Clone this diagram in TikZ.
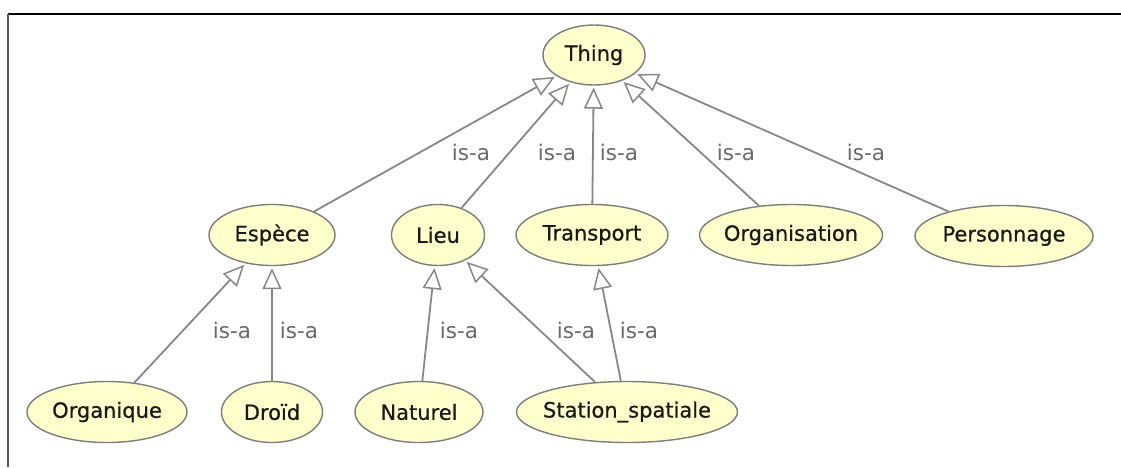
\documentclass[tikz,border=0pt]{standalone}
\usepackage{fontspec}
\setmainfont{DejaVu Sans}
\newfontfamily\classfont{DejaVu Sans}[FakeBold=0.7]
\usetikzlibrary{arrows.meta,shapes.geometric}
\newcommand{\cname}[1]{\makebox[0pt]{#1}}

\begin{document}
\begin{tikzpicture}[x=1pt, y=-1pt,
  classnode/.style={ellipse, draw=Ont-border, fill=Ont-fill, line width=1.4pt,
    inner sep=0pt, minimum height=61pt, font=\classfont\fontsize{21}{25}\selectfont, text=black!90},
  isaline/.style={draw=Ont-line, line width=1.8pt, shorten >=2pt,
    -{Triangle[open, length=21pt, width=19pt, line width=1.5pt]}},
  isalabel/.style={text=Ont-label, inner sep=0pt, font=\fontsize{21.5}{25}\selectfont}]

\definecolor{Ont-fill}{RGB}{255,255,204}
\definecolor{Ont-border}{RGB}{125,125,125}
\definecolor{Ont-line}{RGB}{135,135,135}
\definecolor{Ont-label}{RGB}{105,105,105}
\definecolor{Ont-frame}{RGB}{90,90,90}

\useasboundingbox (0,0) rectangle (1121,467);

\draw[black, line width=1.5pt] (1121,14) -- (8,14);
\draw[Ont-frame, line width=2pt] (8,14) -- (8,467);

\node[classnode, minimum width=102pt, minimum height=60pt] (thing) at (594,55) {\cname{Thing}};

\node[classnode, minimum width=126pt] (espece) at (272,235) {\cname{Espèce}};
\node[classnode, minimum width=93pt] (lieu) at (438,235) {\cname{Lieu}};
\node[classnode, minimum width=152pt] (transport) at (592,235) {\cname{Transport}};
\node[classnode, minimum width=183pt] (organisation) at (791,235) {\cname{Organisation}};
\node[classnode, minimum width=178pt] (personnage) at (1004,236) {\cname{Personnage}};

\node[classnode, minimum width=160pt] (organique) at (107,412) {\cname{Organique}};
\node[classnode, minimum width=101pt] (droid) at (272,412) {\cname{Droïd}};
\node[classnode, minimum width=128pt] (naturel) at (419,412) {\cname{Naturel}};
\node[classnode, minimum width=221pt] (station) at (627,412) {\cname{Station\_spatiale}};

\foreach \child/\parent in {espece/thing, lieu/thing, transport/thing, organisation/thing,
    personnage/thing, organique/espece, droid/espece, naturel/lieu, station/lieu, station/transport}
  \draw[isaline] (\child) -- (\parent);

\foreach \x/\y [count=\i] in {471/152, 557/152, 619/152, 736/152, 866/152,
    232/330, 299/330, 459/330, 576/330, 639/330}
  \node[isalabel] (isa\i) at (\x,\y) {is-a};

\end{tikzpicture}
\end{document}
